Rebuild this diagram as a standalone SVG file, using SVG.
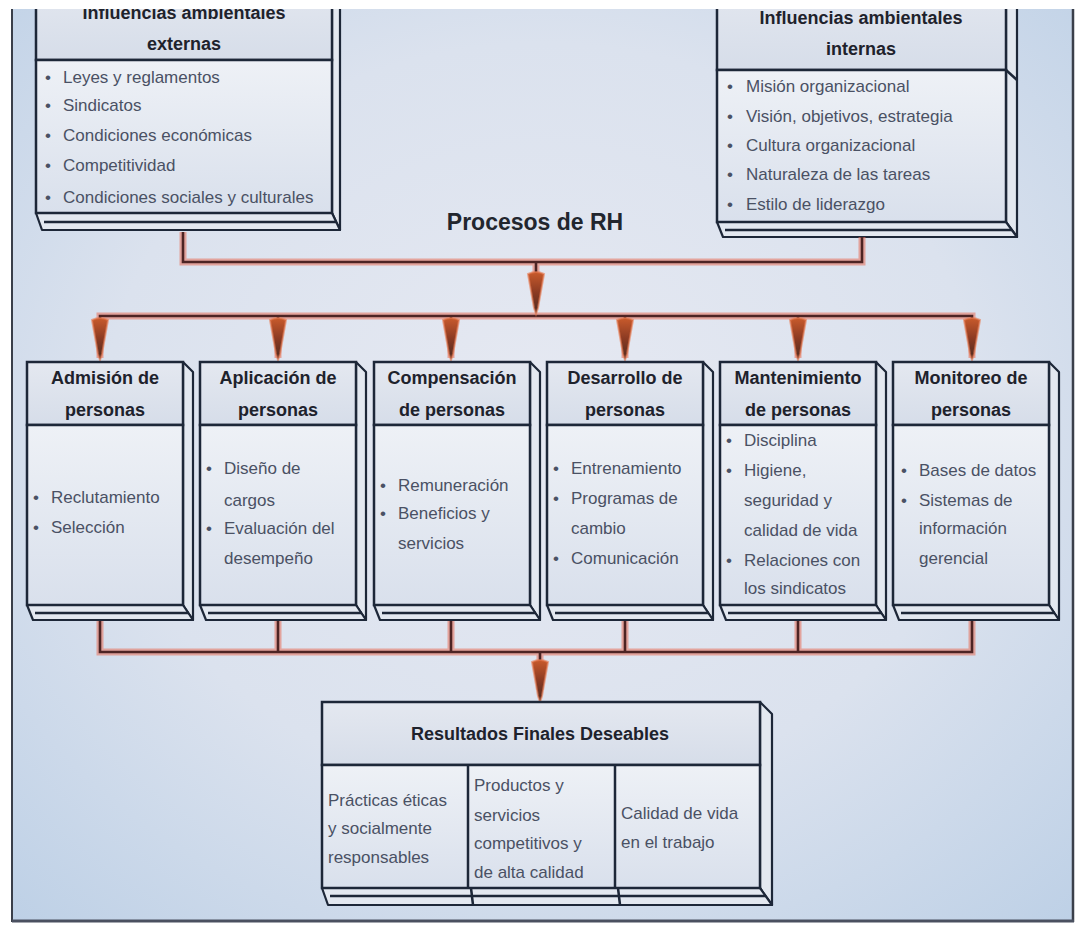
<svg xmlns="http://www.w3.org/2000/svg" width="1078" height="927" viewBox="0 0 1078 927">
  <defs>
    <radialGradient id="bg" cx="0.5" cy="0.45" r="0.75">
      <stop offset="0" stop-color="#e6e9f2"/>
      <stop offset="0.55" stop-color="#dbe2ee"/>
      <stop offset="1" stop-color="#bdd0e6"/>
    </radialGradient>
    <linearGradient id="head" x1="0" y1="0" x2="0" y2="1">
      <stop offset="0" stop-color="#e4e8f0"/>
      <stop offset="1" stop-color="#d6dde9"/>
    </linearGradient>
    <linearGradient id="body" x1="0" y1="0" x2="0" y2="1">
      <stop offset="0" stop-color="#eef1f6"/>
      <stop offset="1" stop-color="#d9e0ec"/>
    </linearGradient>
    <linearGradient id="tip" x1="0" y1="0" x2="0" y2="1">
      <stop offset="0" stop-color="#c85a2c"/>
      <stop offset="0.5" stop-color="#8a3a22"/>
      <stop offset="1" stop-color="#4a2a22"/>
    </linearGradient>
    <clipPath id="frame">
      <rect x="12" y="9" width="1061" height="912"/>
    </clipPath>
    <!-- teardrop arrowhead pointing down, tip at (0,0) -->
    <path id="arrow" d="M-8,-40 Q0,-44 8,-40 L2,-6 L0,0 L-2,-6 Z"/>
  </defs>
  <style>
    .face { stroke: #1d2738; stroke-width: 2.5; }
    .hd { fill: url(#head); }
    .bd { fill: url(#body); }
    .slab { fill: #e3e8f0; stroke: #1d2738; stroke-width: 2.2; stroke-linejoin: round; }
    .ln { stroke: #1d2738; stroke-width: 2.5; fill: none; }
    .ttl { font-family: "Liberation Sans", Arial, sans-serif; font-weight: bold; font-size: 18px; fill: #1e222c; text-anchor: middle; }
    .txt { font-family: "Liberation Sans", Arial, sans-serif; font-size: 17px; fill: #4a5164; }
    .glow { stroke: #e8705a; stroke-opacity: 0.55; stroke-width: 7; fill: none; }
    .wire { stroke: #4d2424; stroke-width: 2.6; fill: none; }
    .head { fill: url(#tip); stroke: #e87a50; stroke-opacity: 0.6; stroke-width: 2; }
  </style>

  <rect x="0" y="0" width="1078" height="927" fill="#ffffff"/>
  <rect x="12" y="9" width="1061" height="912" fill="url(#bg)"/>

  <g clip-path="url(#frame)">
    <!-- external influences -->
    <g id="ext">
      <polygon class="slab" points="332,-20 340,-12 340,230 332,213"/>
      <polygon class="slab" points="36,213 332,213 340,230 42,230"/>
      <line class="ln" x1="44" y1="222" x2="336" y2="222" stroke-width="1.2"/>
      <rect class="face hd" x="36" y="-20" width="296" height="80"/>
      <rect class="face bd" x="36" y="60" width="296" height="153"/>
      <text class="ttl" x="184" y="19">Influencias ambientales</text>
      <text class="ttl" x="184" y="50">externas</text>
      <g class="txt">
        <text x="45" y="83">•</text><text x="63" y="83">Leyes y reglamentos</text>
        <text x="45" y="111">•</text><text x="63" y="111">Sindicatos</text>
        <text x="45" y="141">•</text><text x="63" y="141">Condiciones económicas</text>
        <text x="45" y="171">•</text><text x="63" y="171">Competitividad</text>
        <text x="45" y="203">•</text><text x="63" y="203">Condiciones sociales y culturales</text>
      </g>
    </g>

    <!-- internal influences -->
    <g id="int">
      <polygon class="slab" points="1006,-20 1017,-9 1017,237 1006,222"/>
      <polygon class="slab" points="717,222 1006,222 1017,237 723,237"/>
      <line class="ln" x1="725" y1="230" x2="1012" y2="230" stroke-width="1.2"/>
      <rect class="face hd" x="717" y="-20" width="289" height="90"/>
      <rect class="face bd" x="717" y="70" width="289" height="152"/>
      <line class="ln" x1="1006" y1="70" x2="1017" y2="80" stroke-width="1.5"/>
      <text class="ttl" x="861" y="24">Influencias ambientales</text>
      <text class="ttl" x="861" y="55">internas</text>
      <g class="txt">
        <text x="727" y="92">•</text><text x="746" y="92">Misión organizacional</text>
        <text x="727" y="122">•</text><text x="746" y="122">Visión, objetivos, estrategia</text>
        <text x="727" y="151">•</text><text x="746" y="151">Cultura organizacional</text>
        <text x="727" y="180">•</text><text x="746" y="180">Naturaleza de las tareas</text>
        <text x="727" y="210">•</text><text x="746" y="210">Estilo de liderazgo</text>
      </g>
    </g>

    <text x="535" y="230" font-family="Liberation Sans, Arial, sans-serif" font-weight="bold" font-size="23" fill="#22262e" text-anchor="middle">Procesos de RH</text>

    <!-- connectors -->
    <g id="connectors">
      <path class="glow" d="M183,232 V262 H862 V237 M536,262 V300 M100,358 V316 H972 V358 M278,316 V358 M451,316 V358 M625,316 V358 M798,316 V358 M100,620 V652 H972 V620 M278,620 V652 M451,620 V652 M625,620 V652 M798,620 V652 M540,652 V690"/>
      <path class="wire" d="M183,232 V262 H862 V237 M536,262 V300 M100,350 V316 H972 V350 M278,316 V350 M451,316 V350 M625,316 V350 M798,316 V350 M100,620 V652 H972 V620 M278,620 V652 M451,620 V652 M625,620 V652 M798,620 V652 M540,652 V690"/>
      <use href="#arrow" class="head" x="536" y="314" transform="translate(0,0)"/>
      <use href="#arrow" class="head" x="100" y="360"/>
      <use href="#arrow" class="head" x="278" y="360"/>
      <use href="#arrow" class="head" x="451" y="360"/>
      <use href="#arrow" class="head" x="625" y="360"/>
      <use href="#arrow" class="head" x="798" y="360"/>
      <use href="#arrow" class="head" x="972" y="360"/>
      <use href="#arrow" class="head" x="540" y="702"/>
    </g>

    <!-- process boxes -->
    <g id="admision" transform="translate(27,362)">
      <polygon class="slab" points="156,0 166,10 166,258 156,243"/>
      <polygon class="slab" points="0,243 156,243 166,258 6,258"/>
      <line class="ln" x1="8" y1="251" x2="162" y2="251" stroke-width="1.2"/>
      <rect class="face hd" x="0" y="0" width="156" height="63"/>
      <rect class="face bd" x="0" y="63" width="156" height="180"/>
      <text class="ttl" x="78" y="22">Admisión de</text>
      <text class="ttl" x="78" y="54">personas</text>
      <g class="txt">
        <text x="6" y="141">•</text><text x="24" y="141">Reclutamiento</text>
        <text x="6" y="171">•</text><text x="24" y="171">Selección</text>
      </g>
    </g>

    <g id="aplicacion" transform="translate(200,362)">
      <polygon class="slab" points="156,0 166,10 166,258 156,243"/>
      <polygon class="slab" points="0,243 156,243 166,258 6,258"/>
      <line class="ln" x1="8" y1="251" x2="162" y2="251" stroke-width="1.2"/>
      <rect class="face hd" x="0" y="0" width="156" height="63"/>
      <rect class="face bd" x="0" y="63" width="156" height="180"/>
      <text class="ttl" x="78" y="22">Aplicación de</text>
      <text class="ttl" x="78" y="54">personas</text>
      <g class="txt">
        <text x="6" y="112">•</text><text x="24" y="112">Diseño de</text>
        <text x="24" y="144">cargos</text>
        <text x="6" y="172">•</text><text x="24" y="172">Evaluación del</text>
        <text x="24" y="202">desempeño</text>
      </g>
    </g>

    <g id="compensacion" transform="translate(374,362)">
      <polygon class="slab" points="156,0 166,10 166,258 156,243"/>
      <polygon class="slab" points="0,243 156,243 166,258 6,258"/>
      <line class="ln" x1="8" y1="251" x2="162" y2="251" stroke-width="1.2"/>
      <rect class="face hd" x="0" y="0" width="156" height="63"/>
      <rect class="face bd" x="0" y="63" width="156" height="180"/>
      <text class="ttl" x="78" y="22">Compensación</text>
      <text class="ttl" x="78" y="54">de personas</text>
      <g class="txt">
        <text x="6" y="129">•</text><text x="24" y="129">Remuneración</text>
        <text x="6" y="157">•</text><text x="24" y="157">Beneficios y</text>
        <text x="24" y="187">servicios</text>
      </g>
    </g>

    <g id="desarrollo" transform="translate(547,362)">
      <polygon class="slab" points="156,0 166,10 166,258 156,243"/>
      <polygon class="slab" points="0,243 156,243 166,258 6,258"/>
      <line class="ln" x1="8" y1="251" x2="162" y2="251" stroke-width="1.2"/>
      <rect class="face hd" x="0" y="0" width="156" height="63"/>
      <rect class="face bd" x="0" y="63" width="156" height="180"/>
      <text class="ttl" x="78" y="22">Desarrollo de</text>
      <text class="ttl" x="78" y="54">personas</text>
      <g class="txt">
        <text x="6" y="112">•</text><text x="24" y="112">Entrenamiento</text>
        <text x="6" y="142">•</text><text x="24" y="142">Programas de</text>
        <text x="24" y="172">cambio</text>
        <text x="6" y="202">•</text><text x="24" y="202">Comunicación</text>
      </g>
    </g>

    <g id="mantenimiento" transform="translate(720,362)">
      <polygon class="slab" points="156,0 166,10 166,258 156,243"/>
      <polygon class="slab" points="0,243 156,243 166,258 6,258"/>
      <line class="ln" x1="8" y1="251" x2="162" y2="251" stroke-width="1.2"/>
      <rect class="face hd" x="0" y="0" width="156" height="63"/>
      <rect class="face bd" x="0" y="63" width="156" height="180"/>
      <text class="ttl" x="78" y="22">Mantenimiento</text>
      <text class="ttl" x="78" y="54">de personas</text>
      <g class="txt">
        <text x="6" y="84">•</text><text x="24" y="84">Disciplina</text>
        <text x="6" y="114">•</text><text x="24" y="114">Higiene,</text>
        <text x="24" y="144">seguridad y</text>
        <text x="24" y="174">calidad de vida</text>
        <text x="6" y="204">•</text><text x="24" y="204">Relaciones con</text>
        <text x="24" y="232">los sindicatos</text>
      </g>
    </g>

    <g id="monitoreo" transform="translate(893,362)">
      <polygon class="slab" points="156,0 166,10 166,258 156,243"/>
      <polygon class="slab" points="0,243 156,243 166,258 6,258"/>
      <line class="ln" x1="8" y1="251" x2="162" y2="251" stroke-width="1.2"/>
      <rect class="face hd" x="0" y="0" width="156" height="63"/>
      <rect class="face bd" x="0" y="63" width="156" height="180"/>
      <text class="ttl" x="78" y="22">Monitoreo de</text>
      <text class="ttl" x="78" y="54">personas</text>
      <g class="txt">
        <text x="8" y="114">•</text><text x="26" y="114">Bases de datos</text>
        <text x="8" y="144">•</text><text x="26" y="144">Sistemas de</text>
        <text x="26" y="172">información</text>
        <text x="26" y="202">gerencial</text>
      </g>
    </g>

    <!-- desired results -->
    <g id="resultados">
      <polygon class="slab" points="760,702 772,714 772,905 760,888"/>
      <polygon class="slab" points="322,888 760,888 772,905 328,905"/>
      <line class="ln" x1="330" y1="896" x2="766" y2="896" stroke-width="1.2"/>
      <line class="ln" x1="471" y1="888" x2="473" y2="905" stroke-width="1.5"/>
      <line class="ln" x1="618" y1="888" x2="620" y2="905" stroke-width="1.5"/>
      <rect class="face hd" x="322" y="702" width="438" height="63"/>
      <rect class="face bd" x="322" y="765" width="438" height="123"/>
      <line class="ln" x1="468" y1="765" x2="468" y2="888"/>
      <line class="ln" x1="615" y1="765" x2="615" y2="888"/>
      <text class="ttl" x="540" y="740" font-size="19">Resultados Finales Deseables</text>
      <g class="txt">
        <text x="328" y="806">Prácticas éticas</text>
        <text x="328" y="834">y socialmente</text>
        <text x="328" y="863">responsables</text>
        <text x="474" y="791">Productos y</text>
        <text x="474" y="821">servicios</text>
        <text x="474" y="849">competitivos y</text>
        <text x="474" y="878">de alta calidad</text>
        <text x="621" y="819">Calidad de vida</text>
        <text x="621" y="848">en el trabajo</text>
      </g>
    </g>
  </g>

  <!-- frame -->
  <line x1="12" y1="9" x2="12" y2="922" stroke="#3a3f4a" stroke-width="2"/>
  <line x1="1073" y1="9" x2="1073" y2="922" stroke="#3a3f4a" stroke-width="2.5"/>
  <line x1="12" y1="921" x2="1074" y2="921" stroke="#4a5060" stroke-width="3"/>
</svg>
